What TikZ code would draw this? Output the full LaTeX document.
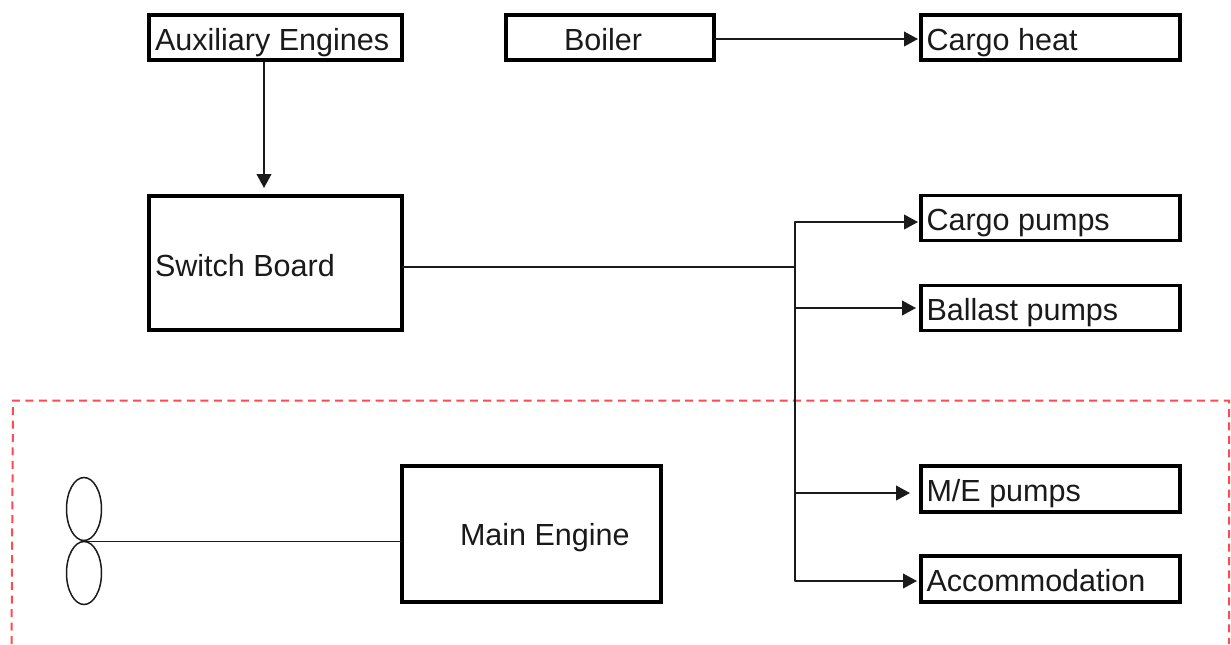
\documentclass[tikz,border=0pt]{standalone}
\usepackage{fontspec}
\setmainfont{Liberation Sans}
\usetikzlibrary{arrows.meta}
\newdimen\pxu \pxu=0.75pt
\newcommand{\boxtxt}[3]{\smash{\makebox[0pt][l]{\hspace*{#1\pxu}\raisebox{-#2\pxu}{#3}}}}
\definecolor{inkc}{HTML}{1A1A1A}
\definecolor{redd}{HTML}{FF4A50}
\tikzset{
  thebox/.style={draw=black,line width=3.9\pxu,fill=white,inner sep=0pt,outer sep=0pt,text=inkc,font=\fontsize{22.9pt}{26pt}\selectfont,minimum width=#1},
  thebox/.default=253\pxu,
  wire/.style={draw=inkc,line width=1.8\pxu},
  arrowwire/.style={wire,-{Triangle[length=10.5pt,width=11pt]}},
  blade/.style={draw=inkc,line width=1.5\pxu,ellipse,minimum width=35\pxu,minimum height=63\pxu,inner sep=0pt,outer sep=0pt},
  zone/.style={draw=redd,line width=2\pxu,dash pattern=on 6pt off 4.1pt},
}
\usetikzlibrary{shapes.geometric}
\begin{document}
\begin{tikzpicture}[x=0.75pt,y=-0.75pt]
\useasboundingbox (0,0) rectangle (1231,644);
\draw[zone] (11.5,644) -- (13,400.5) -- (1229,400.5) -- (1229,644);

\node[thebox,minimum height=45\pxu] (aux) at (275.5,37.5) {\boxtxt{-120.5}{12.5}{Auxiliary Engines}};
\node[thebox=208\pxu,minimum height=45\pxu] (boiler) at (610,37.5) {\boxtxt{-46}{12.5}{Boiler}};
\node[thebox=259\pxu,minimum height=45\pxu] (heat) at (1050.5,37.5) {\boxtxt{-124}{12.5}{Cargo heat}};
\node[thebox,minimum height=134\pxu] (switch) at (275.5,263) {\boxtxt{-120.5}{13}{Switch Board}};
\node[thebox=259\pxu,minimum height=45\pxu] (cargo) at (1050.5,218) {\boxtxt{-124}{12}{Cargo pumps}};
\node[thebox=259\pxu,minimum height=45\pxu] (ballast) at (1050.5,308) {\boxtxt{-124}{12}{Ballast pumps}};
\node[thebox=259\pxu,minimum height=46\pxu] (me) at (1050.5,489) {\boxtxt{-124}{12}{M/E pumps}};
\node[thebox=259\pxu,minimum height=46\pxu] (acc) at (1050.5,579) {\boxtxt{-124}{12}{Accommodation}};
\node[thebox=259\pxu,minimum height=136\pxu] (main) at (531.5,534) {\boxtxt{-71.5}{11}{Main Engine}};

\node[blade] (bladeA) at (84,509) {};
\node[blade] (bladeB) at (84,573) {};
\coordinate (hub) at (84,541.5);
\coordinate (bustop) at (795,222);
\coordinate (busB) at (795,267);
\coordinate (busC) at (795,308);
\coordinate (busD) at (795,493);
\coordinate (busbot) at (795,581);

\draw[arrowwire] (264,62) -- (264,188);
\draw[arrowwire] (boiler.east |- 0,39) -- (918,39);
\draw[wire] (switch.east |- busB) -- (busB);
\draw[wire,line join=round] (910,222) -- (bustop) -- (busbot) -- (900,581);
\draw[arrowwire] (bustop) -- (918,222);
\draw[arrowwire] (busC) -- (916,308);
\draw[arrowwire] (busD) -- (910,493);
\draw[arrowwire] (busbot) -- (917,581);
\draw[wire] (hub) -- (hub -| main.west);
\end{tikzpicture}
\end{document}
